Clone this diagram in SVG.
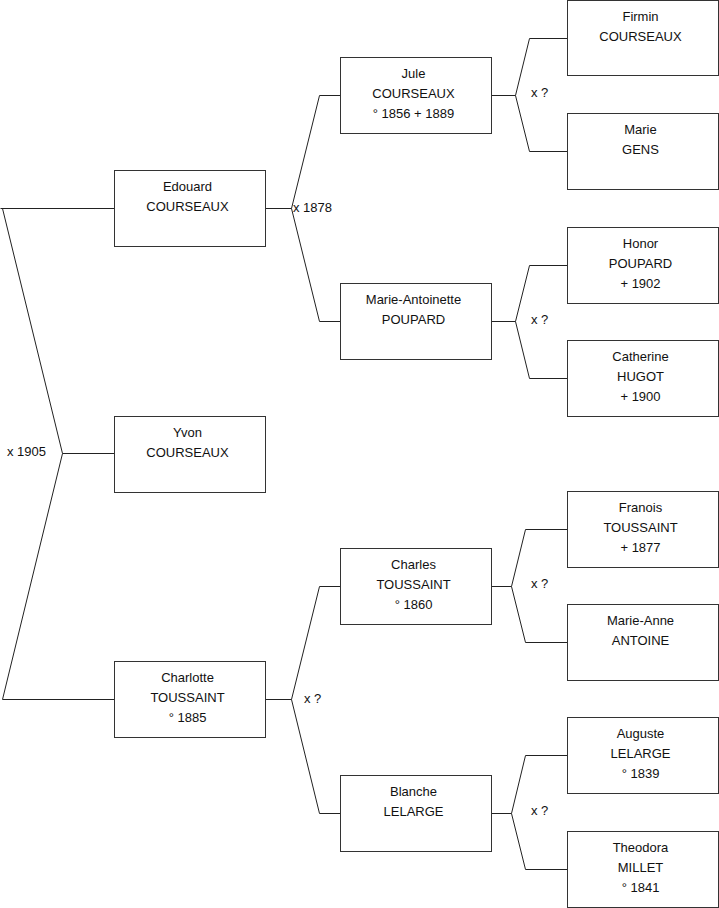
<svg xmlns="http://www.w3.org/2000/svg" width="719" height="908" viewBox="0 0 719 908">
<style>
.box{fill:#fff;stroke:#333;stroke-width:1}
.ln{fill:none;stroke:#222;stroke-width:1}
text{font-family:"Liberation Sans",Arial,sans-serif;font-size:13px;fill:#111}
.c{text-anchor:middle}
</style>
<rect x="0" y="0" width="719" height="908" fill="#fff"/>
<g id="connectors" class="ln">
<path d="M0.5 208.5H114.5M2.5 208.5L62.5 453.5L2.5 699.5H114.5M62.5 453.5H114.5"/>
<path d="M265.5 208.5H291.5M319.5 95.5L291.5 208.5L319.5 321.5M319.5 95.5H340.5M319.5 321.5H340.5"/>
<path d="M265.5 699.5H291.5M319.5 586.5L291.5 699.5L319.5 813.5M319.5 586.5H340.5M319.5 813.5H340.5"/>
<path d="M491.5 95.5H515.5M529.5 38.5L515.5 95.5L529.5 151.5M529.5 38.5H567.5M529.5 151.5H567.5"/>
<path d="M491.5 321.5H515.5M529.5 265.5L515.5 321.5L529.5 378.5M529.5 265.5H567.5M529.5 378.5H567.5"/>
<path d="M491.5 586.5H511.5M525.5 529.5L511.5 586.5L525.5 642.5M525.5 529.5H567.5M525.5 642.5H567.5"/>
<path d="M491.5 813.5H511.5M525.5 755.5L511.5 813.5L525.5 869.5M525.5 755.5H567.5M525.5 869.5H567.5"/>
</g>
<g id="labels">
<text x="7" y="456">x 1905</text>
<text x="293" y="212">x 1878</text>
<text x="304" y="703">x ?</text>
<text x="531" y="97">x ?</text>
<text x="531" y="324">x ?</text>
<text x="531" y="588">x ?</text>
<text x="531" y="815">x ?</text>
</g>
<g id="edouard"><rect class="box" x="114.5" y="170.5" width="151" height="76"/><text class="c" x="187.5" y="191">Edouard</text><text class="c" x="187.5" y="211">COURSEAUX</text></g>
<g id="yvon"><rect class="box" x="114.5" y="416.5" width="151" height="76"/><text class="c" x="187.5" y="437">Yvon</text><text class="c" x="187.5" y="457">COURSEAUX</text></g>
<g id="charlotte"><rect class="box" x="114.5" y="661.5" width="151" height="76"/><text class="c" x="187.5" y="682">Charlotte</text><text class="c" x="187.5" y="702">TOUSSAINT</text><text class="c" x="187.5" y="722">° 1885</text></g>
<g id="jule"><rect class="box" x="340.5" y="57.5" width="151" height="76"/><text class="c" x="413.5" y="78">Jule</text><text class="c" x="413.5" y="98">COURSEAUX</text><text class="c" x="413.5" y="118">° 1856 + 1889</text></g>
<g id="marie-antoinette"><rect class="box" x="340.5" y="283.5" width="151" height="76"/><text class="c" x="413.5" y="304">Marie-Antoinette</text><text class="c" x="413.5" y="324">POUPARD</text></g>
<g id="charles"><rect class="box" x="340.5" y="548.5" width="151" height="76"/><text class="c" x="413.5" y="569">Charles</text><text class="c" x="413.5" y="589">TOUSSAINT</text><text class="c" x="413.5" y="609">° 1860</text></g>
<g id="blanche"><rect class="box" x="340.5" y="775.5" width="151" height="76"/><text class="c" x="413.5" y="796">Blanche</text><text class="c" x="413.5" y="816">LELARGE</text></g>
<g id="firmin"><rect class="box" x="567.5" y="0.5" width="151" height="75"/><text class="c" x="640.5" y="21">Firmin</text><text class="c" x="640.5" y="41">COURSEAUX</text></g>
<g id="marie"><rect class="box" x="567.5" y="113.5" width="151" height="76"/><text class="c" x="640.5" y="134">Marie</text><text class="c" x="640.5" y="154">GENS</text></g>
<g id="honor"><rect class="box" x="567.5" y="227.5" width="151" height="76"/><text class="c" x="640.5" y="248">Honor</text><text class="c" x="640.5" y="268">POUPARD</text><text class="c" x="640.5" y="288">+ 1902</text></g>
<g id="catherine"><rect class="box" x="567.5" y="340.5" width="151" height="76"/><text class="c" x="640.5" y="361">Catherine</text><text class="c" x="640.5" y="381">HUGOT</text><text class="c" x="640.5" y="401">+ 1900</text></g>
<g id="franois"><rect class="box" x="567.5" y="491.5" width="151" height="76"/><text class="c" x="640.5" y="512">Franois</text><text class="c" x="640.5" y="532">TOUSSAINT</text><text class="c" x="640.5" y="552">+ 1877</text></g>
<g id="marie-anne"><rect class="box" x="567.5" y="604.5" width="151" height="76"/><text class="c" x="640.5" y="625">Marie-Anne</text><text class="c" x="640.5" y="645">ANTOINE</text></g>
<g id="auguste"><rect class="box" x="567.5" y="717.5" width="151" height="76"/><text class="c" x="640.5" y="738">Auguste</text><text class="c" x="640.5" y="758">LELARGE</text><text class="c" x="640.5" y="778">° 1839</text></g>
<g id="theodora"><rect class="box" x="567.5" y="831.5" width="151" height="76"/><text class="c" x="640.5" y="852">Theodora</text><text class="c" x="640.5" y="872">MILLET</text><text class="c" x="640.5" y="892">° 1841</text></g>
</svg>
